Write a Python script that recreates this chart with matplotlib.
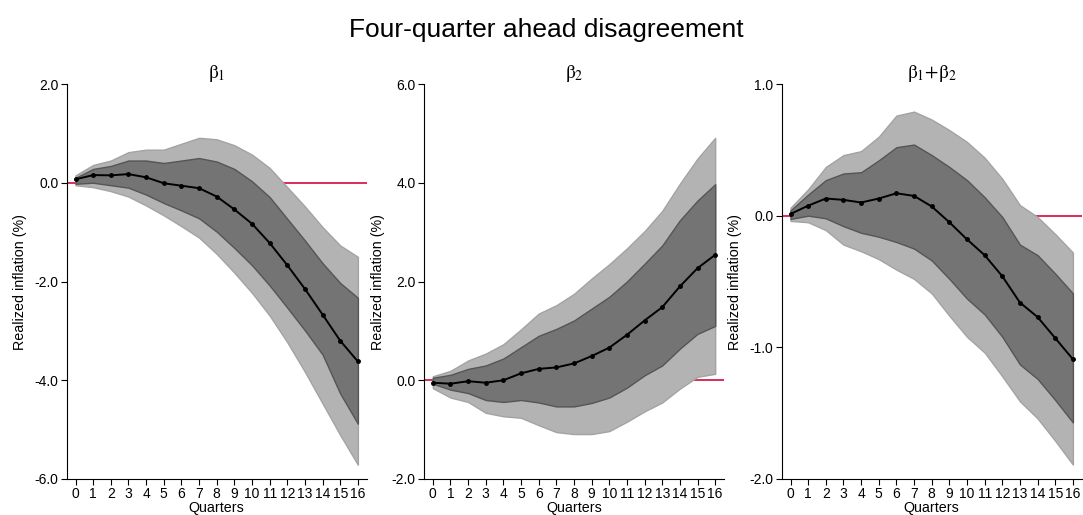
import numpy as np
import matplotlib
matplotlib.use('Agg')
import matplotlib.pyplot as plt

plt.rcParams['font.family'] = ['Liberation Sans', 'DejaVu Sans']
plt.rcParams['mathtext.fontset'] = 'stix'

quarters = np.arange(17)

# beta_1
b1_mid = [0.07, 0.155, 0.15, 0.175, 0.11, -0.01, -0.06, -0.11, -0.28, -0.54, -0.83, -1.22, -1.67, -2.15, -2.67, -3.20, -3.62]
b1_in_hi = [0.10, 0.28, 0.34, 0.45, 0.45, 0.40, 0.45, 0.50, 0.43, 0.28, 0.03, -0.29, -0.73, -1.17, -1.63, -2.03, -2.33]
b1_in_lo = [-0.02, 0.00, -0.05, -0.10, -0.24, -0.41, -0.56, -0.72, -0.99, -1.32, -1.67, -2.08, -2.53, -2.99, -3.48, -4.27, -4.88]
b1_out_hi = [0.15, 0.36, 0.45, 0.62, 0.67, 0.67, 0.79, 0.91, 0.88, 0.76, 0.57, 0.30, -0.09, -0.48, -0.90, -1.27, -1.50]
b1_out_lo = [-0.05, -0.09, -0.17, -0.28, -0.46, -0.66, -0.88, -1.11, -1.44, -1.82, -2.23, -2.69, -3.23, -3.83, -4.47, -5.11, -5.71]

# beta_2
b2_mid = [-0.05, -0.07, -0.02, -0.05, 0.00, 0.14, 0.23, 0.26, 0.34, 0.49, 0.66, 0.92, 1.21, 1.48, 1.90, 2.27, 2.54]
b2_in_hi = [0.05, 0.11, 0.23, 0.30, 0.44, 0.67, 0.90, 1.04, 1.21, 1.45, 1.69, 2.00, 2.36, 2.73, 3.24, 3.64, 3.97]
b2_in_lo = [-0.07, -0.19, -0.26, -0.40, -0.44, -0.40, -0.45, -0.53, -0.53, -0.46, -0.35, -0.15, 0.10, 0.30, 0.64, 0.94, 1.10]
b2_out_hi = [0.08, 0.19, 0.40, 0.54, 0.73, 1.03, 1.35, 1.52, 1.75, 2.06, 2.35, 2.67, 3.02, 3.43, 3.98, 4.49, 4.91]
b2_out_lo = [-0.16, -0.35, -0.44, -0.66, -0.73, -0.76, -0.91, -1.05, -1.09, -1.09, -1.03, -0.84, -0.63, -0.45, -0.17, 0.07, 0.13]

# beta_1 + beta_2
b12_mid = [0.013, 0.076, 0.13, 0.12, 0.10, 0.13, 0.17, 0.15, 0.07, -0.05, -0.18, -0.30, -0.46, -0.66, -0.77, -0.93, -1.09]
b12_in_hi = [0.04, 0.16, 0.27, 0.32, 0.33, 0.42, 0.52, 0.54, 0.46, 0.37, 0.27, 0.14, -0.01, -0.22, -0.30, -0.44, -0.59]
b12_in_lo = [-0.025, 0.00, -0.02, -0.08, -0.13, -0.16, -0.20, -0.25, -0.34, -0.48, -0.63, -0.75, -0.92, -1.13, -1.24, -1.40, -1.57]
b12_out_hi = [0.06, 0.20, 0.37, 0.46, 0.49, 0.60, 0.76, 0.79, 0.73, 0.65, 0.56, 0.44, 0.28, 0.08, -0.01, -0.14, -0.28]
b12_out_lo = [-0.04, -0.05, -0.11, -0.22, -0.27, -0.33, -0.41, -0.48, -0.59, -0.76, -0.92, -1.04, -1.22, -1.41, -1.54, -1.71, -1.89]

titles = [r'$\mathrm{\beta}_1$', r'$\mathrm{\beta}_2$', r'$\mathrm{\beta}_1{+}\mathrm{\beta}_2$']
ylims = [(-6, 2), (-2, 6), (-2, 1)]
ysteps = [2, 2, 1]
panels = [
    (b1_mid, b1_in_lo, b1_in_hi, b1_out_lo, b1_out_hi),
    (b2_mid, b2_in_lo, b2_in_hi, b2_out_lo, b2_out_hi),
    (b12_mid, b12_in_lo, b12_in_hi, b12_out_lo, b12_out_hi),
]

fig = plt.figure(figsize=(10.83, 5.15), dpi=100)
lefts = [66.7 / 1083, 424 / 1083, 781.7 / 1083]

for i, (mid, in_lo, in_hi, out_lo, out_hi) in enumerate(panels):
    ax = fig.add_axes([lefts[i], 36 / 515, 300 / 1083, 395 / 515])
    ax.axhline(0, color='#d6083b', lw=1.2, zorder=1)
    ax.fill_between(quarters, out_lo, out_hi, facecolor='#b3b3b3', edgecolor='#a3a3a3', lw=1, zorder=2)
    ax.fill_between(quarters, in_lo, in_hi, facecolor='#747474', edgecolor='#555555', lw=1, zorder=3)
    ax.plot(quarters, mid, color='black', lw=1.4, marker='o', ms=2.5, zorder=4)

    ax.set_xlim(-0.5, 16.5)
    ax.set_ylim(*ylims[i])
    lo, hi = ylims[i]
    ax.set_yticks(np.arange(lo, hi + 0.01, ysteps[i]))
    ax.yaxis.set_major_formatter(matplotlib.ticker.FormatStrFormatter('%.1f'))
    ax.set_xticks(quarters)
    ax.tick_params(labelsize=10, length=4, width=0.8, pad=2)
    ax.spines['top'].set_visible(False)
    ax.spines['right'].set_visible(False)
    ax.set_xlabel('Quarters', fontsize=10.3, labelpad=0)
    ax.set_ylabel('Realized inflation (%)', fontsize=10.3, labelpad=5)
    ax.set_title(titles[i], fontsize=14, pad=4)

fig.suptitle('Four-quarter ahead disagreement', fontsize=19, x=0.504, y=0.965)
fig.savefig('out.png', dpi=100)
